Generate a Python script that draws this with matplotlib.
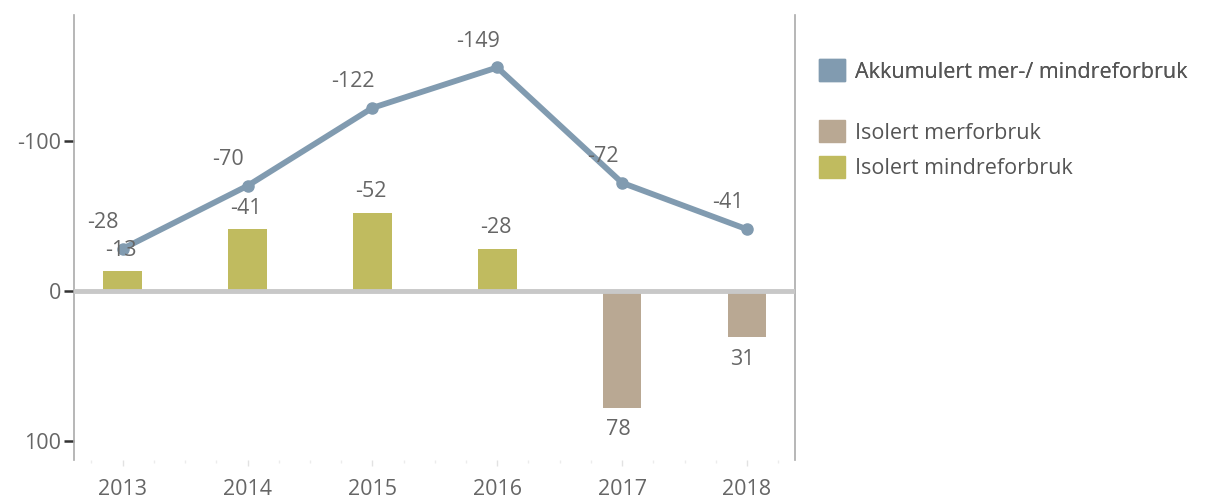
import numpy as np
import matplotlib.pyplot as plt
from matplotlib.patches import Patch

years = ["2013", "2014", "2015", "2016", "2017", "2018"]
akkumulert = [-28, -70, -122, -149, -72, -41]
merforbruk = [0, 0, 0, 0, 78, 31]
mindreforbruk = [-13, -41, -52, -28, 0, 0]

C_LINE = "#819bb0"
C_MER = "#b9a893"
C_MINDRE = "#c0bb5f"
C_TEXT = "#666666"
FS = 15.5

plt.rcParams["font.family"] = ["Open Sans", "DejaVu Sans"]

fig = plt.figure(figsize=(12.13, 5.0), dpi=100)
ax = fig.add_axes([74 / 1213, 40 / 500, 721 / 1213, 445 / 500])
x = np.arange(len(years))

ax.bar(x, mindreforbruk, width=0.31, color=C_MINDRE, zorder=2)
ax.bar(x, merforbruk, width=0.31, color=C_MER, zorder=2)
ax.axhline(0, color="#c8c8c8", lw=3.5, zorder=3)
ax.plot(x, akkumulert, color=C_LINE, lw=4.2, marker="o", ms=8, zorder=4)

# data labels
for xi, v in zip(x, mindreforbruk):
    if v != 0:
        ax.annotate(f"{v}", (xi, v), xytext=(-1, 15), textcoords="offset points",
                    ha="center", va="center", fontsize=FS, color=C_TEXT, zorder=5)
for xi, v in zip(x, merforbruk):
    if v != 0:
        ax.annotate(f"{v}", (xi, v), xytext=(-3, -16), textcoords="offset points",
                    ha="center", va="center", fontsize=FS, color=C_TEXT, zorder=5)
for xi, v in zip(x, akkumulert):
    ax.annotate(f"{v}", (xi, v), xytext=(-14, 19), textcoords="offset points",
                ha="center", va="center", fontsize=FS, color=C_TEXT, zorder=5)

ax.set_xlim(-0.39, 5.385)
ax.set_ylim(113, -184)
ax.set_yticks([-100, 0, 100])
ax.set_yticklabels(["-100", "0", "100"])
ax.set_xticks(x)
ax.set_xticklabels(years)
ax.set_xticks(np.arange(-0.25, 5.3, 0.25), minor=True)
ax.tick_params(axis="y", length=7, width=1.8, color="#333333", labelcolor=C_TEXT,
               labelsize=FS, pad=2)
ax.tick_params(axis="x", which="major", length=4, width=1, color="#e2e2e2",
               labelcolor=C_TEXT, labelsize=FS, pad=10)
ax.tick_params(axis="x", which="minor", length=2, width=1, color="#ececec")

for s in ["top", "bottom"]:
    ax.spines[s].set_visible(False)
for s in ["left", "right"]:
    ax.spines[s].set_color("#aaaaaa")
    ax.spines[s].set_linewidth(1.2)

handles = [Patch(color=C_LINE, label="Akkumulert mer-/ mindreforbruk"),
           Patch(color=C_MER, label="Isolert merforbruk"),
           Patch(color=C_MINDRE, label="Isolert mindreforbruk")]
leg1 = fig.legend(handles=handles[:1], loc="upper left", bbox_to_anchor=(800 / 1213, 1 - 40 / 500),
                  frameon=False, fontsize=FS, handlelength=1.2, handleheight=1.2,
                  handletextpad=0.45, labelcolor="#555555")
fig.add_artist(leg1)
fig.legend(handles=handles[1:], loc="upper left", bbox_to_anchor=(800 / 1213, 1 - 101 / 500),
           frameon=False, fontsize=FS, handlelength=1.2, handleheight=1.2,
           handletextpad=0.45, labelspacing=0.55, labelcolor="#555555")

fig.savefig("out.png", dpi=100)
